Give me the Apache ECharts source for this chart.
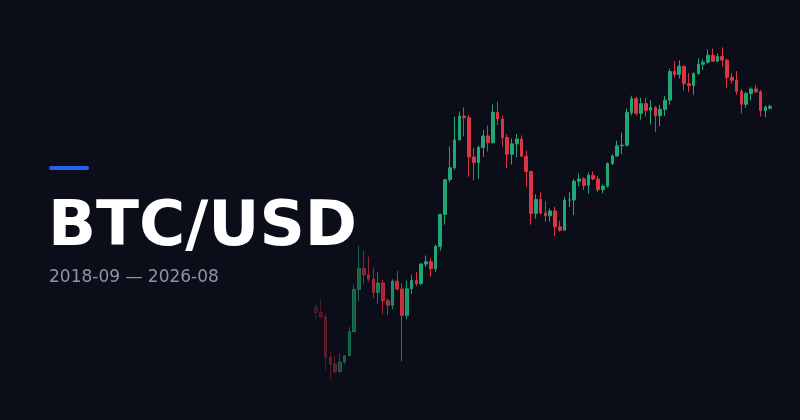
<!DOCTYPE html>
<html>
<head>
<meta charset="utf-8">
<script src="https://cdn.jsdelivr.net/npm/echarts@6/dist/echarts.min.js"></script>
<style>
html,body{margin:0;padding:0;background:#0b0e18;}
#chart{width:800px;height:420px;}
</style>
</head>
<body>
<div id="chart"></div>
<script>
// Monthly candles, 2018-09 .. 2026-08
var startYear = 2018, startMonth = 9, monthCount = 96;
var months = [];
for (var k = 0; k < monthCount; k++) {
  var m = startMonth - 1 + k;
  var y = startYear + Math.floor(m / 12);
  var mm = (m % 12) + 1;
  months.push(y + '-' + (mm < 10 ? '0' + mm : mm));
}

var opens = [
  7030, 6630, 6300, 4020, 3740, 3440, 3820, 4100, 5350, 8570, 10820, 10080,
  9600, 8290, 9200, 7560, 7190, 9390, 8600, 6420, 8630, 9450, 9140, 11350,
  11650, 10780, 13800, 19700, 29000, 33100, 45140, 58800, 57750, 37330, 35040, 41460,
  47100, 43790, 61300, 57000, 46300, 38480, 43190, 45540, 37640, 31790, 19940, 23290,
  20050, 19430, 20490, 17170, 16540, 23140, 23150, 28480, 29250, 27220, 30480, 29230,
  25940, 26970, 34670, 37720, 42280, 42580, 61130, 71330, 60640, 67490, 62680, 64620,
  58970, 63330, 70220, 96400, 93430, 102400, 84370, 82550, 94200, 104600, 107100, 115700,
  108200, 114000, 109600, 90400, 87500, 77500, 67000, 75500, 79500, 77000, 62500, 64200
];
var highs = [
  7400, 7680, 6600, 4300, 4120, 4200, 4130, 5640, 9070, 13880, 13150, 12330,
  10950, 10370, 9510, 7750, 9580, 10500, 9190, 9460, 10080, 10400, 11450, 12480,
  12090, 14100, 19850, 29300, 41950, 58350, 61780, 64860, 59600, 41300, 42300, 50480,
  52920, 67000, 69000, 59040, 47990, 45820, 48190, 47440, 39980, 31990, 24670, 25210,
  22800, 21080, 21450, 18390, 23960, 25250, 29190, 31000, 29850, 31430, 31800, 30220,
  27490, 35200, 38430, 44700, 48970, 63910, 73750, 72800, 71950, 71980, 70010, 65590,
  66480, 73620, 99650, 108270, 109350, 102500, 95000, 95760, 111970, 110500, 123100, 124450,
  117900, 126200, 111000, 94500, 97000, 79500, 77000, 81000, 83000, 78500, 66000, 66800
];
var lows = [
  6100, 6200, 3500, 3150, 3350, 3390, 3720, 4080, 5330, 7530, 9070, 9330,
  7730, 7310, 6520, 6430, 6870, 8450, 3850, 6150, 8120, 8900, 8980, 10990,
  9880, 10420, 13200, 17600, 28130, 32400, 44950, 47000, 30000, 28800, 29300, 37330,
  39600, 43280, 53250, 42000, 32950, 34320, 37150, 37580, 26700, 17600, 18780, 19600,
  18150, 18190, 15480, 16260, 16500, 21400, 19550, 26940, 25870, 24800, 28860, 25170,
  24930, 26560, 34100, 37630, 38560, 41880, 59320, 59190, 56550, 58400, 53550, 49100,
  52550, 58870, 66800, 90500, 89260, 78200, 76600, 74500, 93400, 98200, 105300, 107300,
  107300, 102000, 80600, 84500, 74500, 60500, 64500, 70000, 76000, 58500, 58000, 63300
];
var closes = [
  6630, 6300, 4020, 3740, 3440, 3820, 4100, 5350, 8570, 10820, 10080, 9600,
  8290, 9200, 7560, 7190, 9390, 8600, 6420, 8630, 9450, 9140, 11350, 11650,
  10780, 13800, 19700, 29000, 33100, 45140, 58800, 57750, 37330, 35040, 41460, 47100,
  43790, 61300, 57000, 46300, 38480, 43190, 45540, 37640, 31790, 19940, 23290, 20050,
  19430, 20490, 17170, 16540, 23140, 23150, 28480, 29250, 27220, 30480, 29230, 25940,
  26970, 34670, 37720, 42280, 42580, 61130, 71330, 60640, 67490, 62680, 64620, 58970,
  63330, 70220, 96400, 93430, 102400, 84370, 82550, 94200, 104600, 107100, 115700, 108200,
  114000, 109600, 90400, 87500, 77500, 67000, 75500, 79500, 77000, 62500, 65000, 65500
];

var titleText = 'BTC/USD';
var subtitleText = months[0] + ' \u2014 ' + months[months.length - 1];

var upColor = '#21a675';
var downColor = '#dc3545';

var candles = [];
for (var i = 0; i < months.length; i++) {
  var a = Math.min(1, 0.25 + 0.75 * i / 22);
  candles.push({
    value: [opens[i], closes[i], lows[i], highs[i]],
    itemStyle: { opacity: a }
  });
}

var chart = echarts.init(document.getElementById('chart'), null, { renderer: 'canvas' });
chart.setOption({
  backgroundColor: '#0b0e18',
  animation: false,
  grid: { left: 313.6, right: 27.5, top: 40, bottom: 30 },
  xAxis: {
    type: 'category', data: months, boundaryGap: true,
    axisLine: { show: false }, axisTick: { show: false }, axisLabel: { show: false }, splitLine: { show: false }
  },
  yAxis: {
    type: 'log', logBase: 10, min: 2800, max: 137000,
    axisLine: { show: false }, axisTick: { show: false }, axisLabel: { show: false }, splitLine: { show: false }
  },
  series: [{
    type: 'candlestick',
    data: candles,
    barWidth: '66%',
    itemStyle: {
      color: upColor, color0: downColor,
      borderColor: upColor, borderColor0: downColor,
      borderWidth: 1
    }
  }],
  graphic: [
    { type: 'rect', left: 49, top: 166, shape: { width: 40, height: 4, r: 2 }, style: { fill: '#2563eb' } },
    { type: 'text', left: 48, top: 197, style: { text: titleText, fill: '#ffffff', font: 'bold 63px "DejaVu Sans"' } },
    { type: 'text', left: 49, top: 269, style: { text: subtitleText, fill: '#8b95a7', font: '17px "DejaVu Sans"' } }
  ]
});
</script>
</body>
</html>
